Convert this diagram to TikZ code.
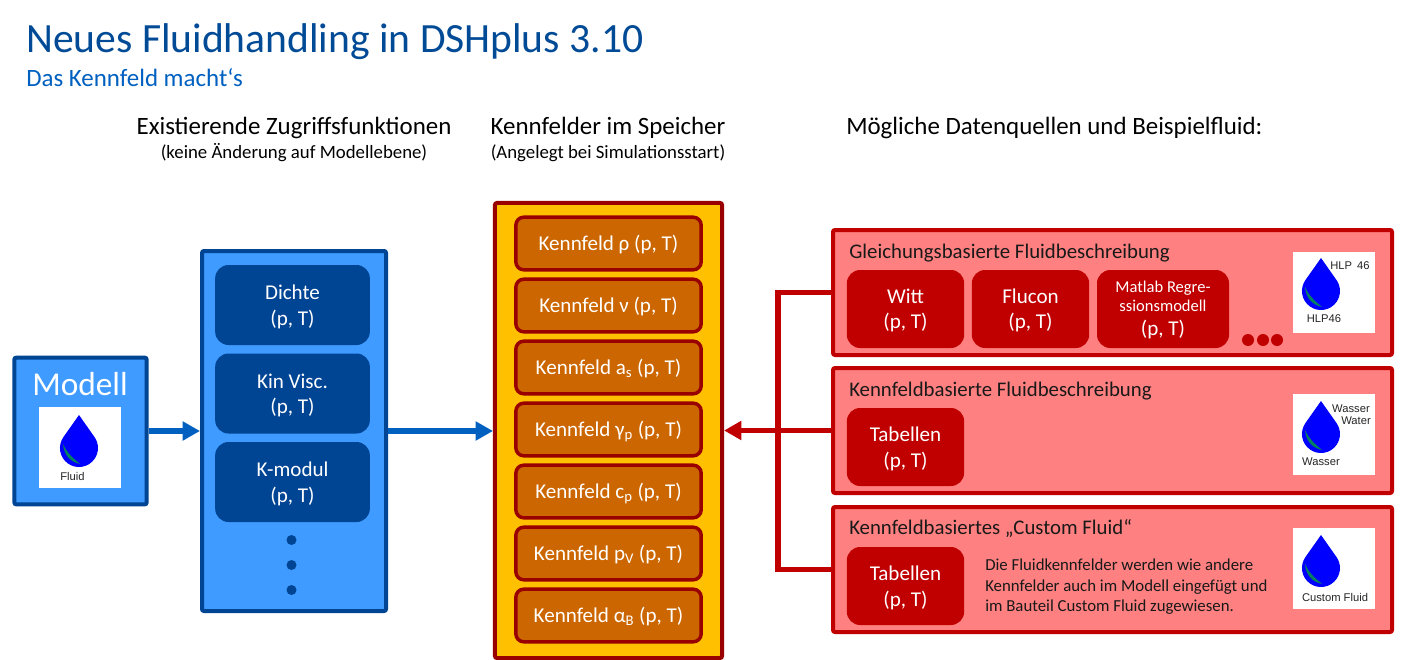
\documentclass[tikz,border=0pt]{standalone}
\usepackage{fontspec}
\setmainfont{Carlito}
\newfontfamily\iconfont{Liberation Sans}
\usetikzlibrary{arrows.meta}
\definecolor{titleblue}{HTML}{004A96}
\definecolor{subblue}{HTML}{0060C0}
\definecolor{lightblue}{HTML}{3F9BFF}
\definecolor{darkblue}{HTML}{004494}
\definecolor{amber}{HTML}{FFC000}
\definecolor{ochre}{HTML}{CC6600}
\definecolor{maroon}{HTML}{990000}
\definecolor{brightred}{HTML}{C00000}
\definecolor{salmon}{HTML}{FF8080}
\definecolor{dropgreen}{HTML}{008060}
\newcommand{\smalltab}{\fontsize{12.4}{14}\selectfont}
\newcommand{\lowered}[2][-5.6pt]{\smash{\raisebox{#1}{#2}}}
\tikzset{
  x=0.75pt, y=-0.75pt,
  panel/.style={draw, line width=3pt, rounded corners=1.5pt, inner sep=0pt},
  bluepanel/.style={panel, draw=darkblue, fill=lightblue},
  redpanel/.style={panel, draw=brightred, fill=salmon, minimum width=419.25pt, minimum height=93.75pt},
  funcbox/.style={fill=darkblue, text=white, rounded corners=10pt, minimum width=116pt, minimum height=60pt, align=center, font=\fontsize{15.8}{19}\selectfont},
  kennbox/.style={draw=maroon, fill=ochre, text=white, line width=2.6pt, rounded corners=6pt, minimum width=139pt, minimum height=39.5pt, text height=14pt, text depth=3pt, font=\fontsize{15.8}{19}\selectfont},
  tabbox/.style={fill=brightred, text=white, rounded corners=10pt, minimum height=58.5pt, align=center, font=\fontsize{15.8}{19}\selectfont},
  icon/.style={fill=white, minimum width=61.5pt, minimum height=61pt, inner sep=0pt},
  icontext/.style={font=\iconfont\fontsize{8.4}{10}\selectfont, text=black!85, inner sep=0pt},
  head/.style={font=\fontsize{18.7}{22}\selectfont, inner sep=0pt},
  subhead/.style={font=\fontsize{14.1}{17}\selectfont, inner sep=0pt},
  paneltitle/.style={font=\fontsize{15.6}{18}\selectfont, anchor=west, inner sep=0pt, text=black!90},
  blueflow/.style={draw=subblue, line width=4.5pt, -{Triangle[length=13pt,width=13.7pt]}},
  redflow/.style={draw=brightred, line width=3.8pt},
  bluedot/.style={circle, fill=darkblue, minimum size=7.5pt, inner sep=0pt},
  reddot/.style={circle, fill=brightred, minimum size=9pt, inner sep=0pt},
  fluiddrop/.pic={
    \fill[blue] (0,0) -- (-15.6,22.1) arc[start angle=215, end angle=-35, radius=19] -- cycle;
    \fill[dropgreen] (-16,29) .. controls (-15,41) and (-8,47) .. (1,49) .. controls (-6,43) and (-12,38) .. cycle;
  }
}
\begin{document}
\begin{tikzpicture}
  \useasboundingbox (0,0) rectangle (1404,660);
  % Titel
  \node[anchor=west, inner sep=0pt, text=titleblue, font=\fontsize{31.2}{36}\selectfont] (title) at (26,42) {Neues Fluidhandling in DSHplus 3.10};
  \node[anchor=west, inner sep=0pt, text=subblue, font=\fontsize{18.7}{22}\selectfont] (subtitle) at (26,78) {Das Kennfeld macht‘s};
  \node[head] (headzugriff) at (294,128) {Existierende Zugriffsfunktionen};
  \node[subhead] (subzugriff) at (294,153) {(keine Änderung auf Modellebene)};
  \node[head] (headkenn) at (608,128) {Kennfelder im Speicher};
  \node[subhead] (subkenn) at (608,153) {(Angelegt bei Simulationsstart)};
  \node[head, anchor=west] (headdaten) at (846,128) {Mögliche Datenquellen und Beispielfluid:};
  % Modell
  \node[bluepanel, minimum width=99.3pt, minimum height=110pt] (modell) at (80.5,431) {};
  \node[text=white, inner sep=0pt, font=\fontsize{25}{30}\selectfont] (modelltext) at (80,384) {Modell};
  \node[icon] (iconmodell) at (80,447.5) {};
  \pic at (79,415) {fluiddrop};
  \node[icontext] (fluidtext) at (72.5,476) {Fluid};
  % Zugriffsfunktionen
  \node[bluepanel, minimum width=138pt, minimum height=270pt] (zugriff) at (294,431) {};
  \node[funcbox] (dichte) at (292.5,305) {\lowered{Dichte}\\\lowered{(p, T)}};
  \node[funcbox] (visc) at (292.5,393.5) {\lowered{Kin Visc.}\\\lowered{(p, T)}};
  \node[funcbox] (kmodul) at (292.5,482) {\lowered{K-modul}\\\lowered{(p, T)}};
  \foreach \y [count=\i] in {540,565,590}
    \node[bluedot] (blue\i) at (291.5,\y) {};
  % Kennfelder
  \node[panel, draw=maroon, fill=amber, minimum width=170.3pt, minimum height=341.3pt] (speicher) at (608.5,430.5) {};
  \node[kennbox] (krho) at (608.5,243.5) {Kennfeld ρ (p, T)};
  \node[kennbox] (knu) at (608.5,305.5) {Kennfeld ν (p, T)};
  \node[kennbox] (kas) at (608.5,367.5) {Kennfeld a\textsubscript{s} (p, T)};
  \node[kennbox] (kgamma) at (608.5,429.5) {Kennfeld γ\textsubscript{p} (p, T)};
  \node[kennbox] (kcp) at (608.5,491.5) {Kennfeld c\textsubscript{p} (p, T)};
  \node[kennbox] (kpv) at (608.5,553.5) {Kennfeld p\textsubscript{V} (p, T)};
  \node[kennbox] (kalpha) at (608.5,615.5) {Kennfeld α\textsubscript{B} (p, T)};
  % Datenquellen
  \node[redpanel] (gleichung) at (1112.5,292.5) {};
  \node[redpanel] (kennbasis) at (1112.5,430.5) {};
  \node[redpanel] (custom) at (1112.5,569.5) {};
  \node[paneltitle] (titlegleichung) at (849,253) {Gleichungsbasierte Fluidbeschreibung};
  \node[paneltitle] (titlekennbasis) at (849,391) {Kennfeldbasierte Fluidbeschreibung};
  \node[paneltitle] (titlecustom) at (849,529) {Kennfeldbasiertes „Custom Fluid“};
  \node[tabbox, minimum width=88pt] (witt) at (905.5,309) {\lowered[-5pt]{Witt}\\\lowered[-5pt]{(p, T)}};
  \node[tabbox, minimum width=88pt] (flucon) at (1030.5,309) {\lowered[-5pt]{Flucon}\\\lowered[-5pt]{(p, T)}};
  \node[tabbox, minimum width=99pt] (matlab) at (1163,309) {\smalltab \lowered[-3.5pt]{Matlab Regre-}\\[-4.5pt]\smalltab \lowered[-3.5pt]{ssionsmodell}\\[-1pt]\lowered[-3.5pt]{(p, T)}};
  \foreach \x [count=\i] in {1248,1263,1277}
    \node[reddot] (red\i) at (\x,340) {};
  \node[tabbox, minimum width=88pt] (tabelle) at (905.5,447) {\lowered{Tabellen}\\\lowered{(p, T)}};
  \node[tabbox, minimum width=88pt] (tabcustom) at (905.5,586) {\lowered{Tabellen}\\\lowered{(p, T)}};
  \node[anchor=west, align=left, inner sep=0pt, text=black!90, font=\fontsize{12.6}{15.4}\selectfont] (customtext) at (985,587) {Die Fluidkennfelder werden wie andere\\Kennfelder auch im Modell eingefügt und\\im Bauteil Custom Fluid zugewiesen.};
  % Fluid-Symbole
  \node[icon] (iconhlp) at (1334,292.5) {};
  \pic at (1321,258) {fluiddrop};
  \node[icontext] (hlpa) at (1350,266) {HLP\,\ 46};
  \node[icontext] (hlpb) at (1324,319) {HLP46};
  \node[icon] (iconwasser) at (1334,434.5) {};
  \pic at (1321,401) {fluiddrop};
  \node[icontext, anchor=east] (wassera) at (1370,409) {Wasser};
  \node[icontext, anchor=east] (wasserb) at (1371,420.5) {Water};
  \node[icontext] (wasserc) at (1321,462) {Wasser};
  \node[icon] (iconcustom) at (1334,568.5) {};
  \pic at (1321,535) {fluiddrop};
  \node[icontext] (customfluid) at (1335,597) {Custom Fluid};
  % Verbindungen
  \coordinate (trunk) at (778,431);
  \draw[blueflow] (modell.east) -- (zugriff.west);
  \draw[blueflow] (zugriff.east) -- (zugriff.east -| speicher.west);
  \draw[redflow] (gleichung.west) -| (trunk) |- (custom.west);
  \draw[redflow, -{Triangle[length=13pt,width=13.7pt]}] (kennbasis.west) -- (kennbasis.west -| speicher.east);
\end{tikzpicture}
\end{document}
